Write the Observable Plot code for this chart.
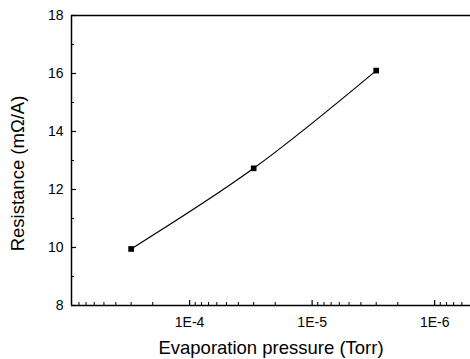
<!DOCTYPE html>
<html>
<head>
<meta charset="utf-8">
<script src="https://cdn.jsdelivr.net/npm/d3@7"></script>
<script src="https://cdn.jsdelivr.net/npm/@observablehq/plot@0.6"></script>
<style>
  html, body { margin: 0; padding: 0; background: #fff; }
  #chart { width: 470px; height: 359px; }
</style>
</head>
<body>
<div id="chart"></div>
<script>
// Data
const pressure = [3.0e-4, 3.0e-5, 3.0e-6];          // Torr
const resistance = [9.95, 12.73, 16.1];             // mΩ/A

// Axes
const xDomain = [9.2e-4, 5.1e-7];                   // reversed log axis
const yDomain = [8, 18];
const xMajorTicks = [1e-4, 1e-5, 1e-6];
const xMinorTicks = [
  8e-4, 7e-4, 6e-4, 5e-4, 4e-4, 3e-4, 2e-4,
  9e-5, 8e-5, 7e-5, 6e-5, 5e-5, 4e-5, 3e-5, 2e-5,
  9e-6, 8e-6, 7e-6, 6e-6, 5e-6, 4e-6, 3e-6, 2e-6,
  9e-7, 8e-7, 7e-7, 6e-7
];
const xTickLabels = ["1E-4", "1E-5", "1E-6"];
const yMajorTicks = [8, 10, 12, 14, 16, 18];
const yMinorTicks = [9, 11, 13, 15, 17];
const xLabel = "Evaporation pressure (Torr)";
const yLabel = "Resistance (mΩ/A)";

const data = pressure.map((p, i) => ({p, r: resistance[i]}));
const xTicks = xMajorTicks.map((v, i) => ({v, t: xTickLabels[i]}));

const W = 470, H = 359, mL = 71, mT = 15, mB = 54, mR = 0;
const fw = W - mL - mR, fh = H - mT - mB;

const chart = Plot.plot({
  width: W,
  height: H,
  marginLeft: mL,
  marginTop: mT,
  marginBottom: mB,
  marginRight: mR,
  style: {fontFamily: "'Liberation Sans', Arial, sans-serif", fontSize: "14px", background: "#fff", color: "#000"},
  x: {type: "log", domain: xDomain, axis: null},
  y: {domain: yDomain, axis: null},
  marks: [
    // frame lines (left, bottom, top)
    Plot.ruleY(yDomain, {stroke: "#000", strokeWidth: 1.5}),
    Plot.ruleX([xDomain[0]], {stroke: "#000", strokeWidth: 1.5}),
    // inward ticks
    Plot.ruleY(yMajorTicks, {stroke: "#000", strokeWidth: 1.2, insetRight: fw - 5}),
    Plot.ruleY(yMinorTicks, {stroke: "#000", strokeWidth: 1, insetRight: fw - 3}),
    Plot.ruleX(xMajorTicks, {stroke: "#000", strokeWidth: 1.2, insetTop: fh - 5}),
    Plot.ruleX(xMinorTicks, {stroke: "#000", strokeWidth: 1, insetTop: fh - 3}),
    // tick labels
    Plot.text(yMajorTicks, {y: d => d, text: d => String(d), frameAnchor: "left", dx: -8,
      textAnchor: "end", lineAnchor: "middle", fontSize: 14, fill: "#000"}),
    Plot.text(xTicks, {x: "v", text: "t", frameAnchor: "bottom", dy: 17,
      textAnchor: "middle", lineAnchor: "middle", fontSize: 14, fill: "#000"}),
    // data
    Plot.line(data, {x: "p", y: "r", stroke: "#000", strokeWidth: 1.2, curve: "catmull-rom"}),
    Plot.dot(data, {x: "p", y: "r", symbol: "square", r: 3.2, fill: "#000", stroke: "none"}),
    // axis titles
    Plot.text([xLabel], {frameAnchor: "bottom", text: d => d, dy: 43, lineAnchor: "middle", textAnchor: "middle", fontSize: 18.5, fill: "#000"}),
    Plot.text([yLabel], {frameAnchor: "left", text: d => d, rotate: -90, dx: -53, dy: 13, lineAnchor: "middle", textAnchor: "middle", fontSize: 18.5, fill: "#000"})
  ]
});
document.getElementById("chart").appendChild(chart);
</script>
</body>
</html>
